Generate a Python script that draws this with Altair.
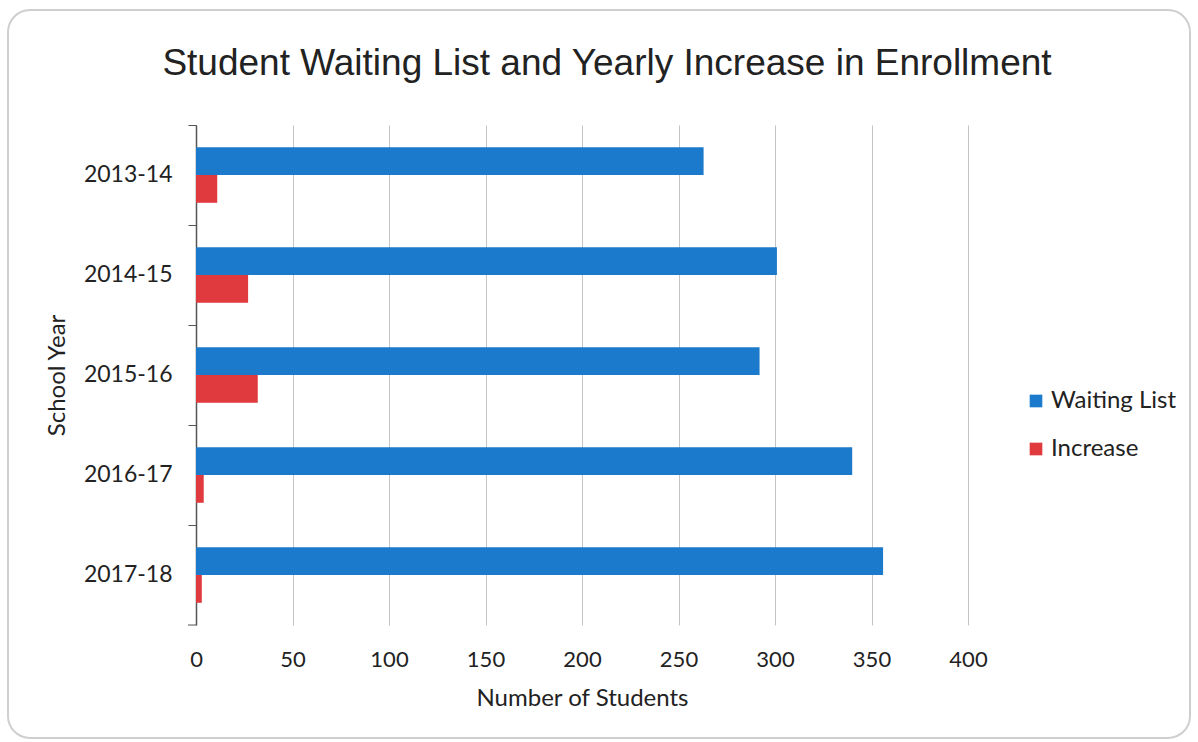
import altair as alt
import pandas as pd

# School years and the two series shown for each
years = ["2013-14", "2014-15", "2015-16", "2016-17", "2017-18"]
series_names = ["Waiting List", "Increase"]
waiting_list = [263, 301, 292, 340, 356]
increase = [11, 27, 32, 4, 3]
x_ticks = [0, 50, 100, 150, 200, 250, 300, 350, 400]
colors = ["#1b7acb", "#e0393e"]
chart_title = "Student Waiting List and Yearly Increase in Enrollment"

df = pd.DataFrame({"year": years, "Waiting List": waiting_list, "Increase": increase})
long_df = df.melt(id_vars="year", var_name="series", value_name="students")

label_font = "Lato"
text_color = "#222222"
one_row = pd.DataFrame({"k": [0]})

bars = alt.Chart(long_df).mark_bar().encode(
    x=alt.X(
        "students:Q",
        scale=alt.Scale(domain=[0, 400], nice=False),
        axis=alt.Axis(
            values=x_ticks,
            title="Number of Students",
            grid=True,
            gridColor="#c4c4c4",
            gridWidth=1,
            domain=False,
            ticks=False,
            labelFlush=False,
            labelFontSize=22,
            labelFont=label_font,
            labelColor=text_color,
            labelPadding=24,
            titleFontSize=24,
            titleFont=label_font,
            titleFontWeight="normal",
            titleColor=text_color,
            titlePadding=16,
        ),
    ),
    y=alt.Y(
        "year:N",
        sort=years,
        scale=alt.Scale(paddingInner=0, paddingOuter=0),
        axis=alt.Axis(
            title="School Year",
            bandPosition=0,
            domainColor="#555555",
            domainWidth=1.5,
            tickColor="#555555",
            tickSize=8,
            labelFontSize=23,
            labelFont=label_font,
            labelColor=text_color,
            labelPadding=16,
            titleFontSize=24,
            titleFont=label_font,
            titleFontWeight="normal",
            titleColor=text_color,
            titlePadding=14,
        ),
    ),
    yOffset=alt.YOffset(
        "series:N",
        sort=series_names,
        scale=alt.Scale(paddingInner=0, paddingOuter=0.8),
    ),
    color=alt.Color(
        "series:N",
        sort=series_names,
        scale=alt.Scale(domain=series_names, range=colors),
        legend=alt.Legend(
            title=None,
            orient="none",
            legendX=828,
            legendY=264,
            symbolType="square",
            symbolSize=160,
            symbolStrokeWidth=0,
            labelFontSize=24,
            labelFont=label_font,
            labelColor=text_color,
            rowPadding=24,
            labelOffset=3,
        ),
    ),
)

# closing tick at the bottom of the category axis
bottom_tick = alt.Chart(one_row).mark_rule(color="#555555", strokeWidth=1).encode(
    x=alt.value(-8), x2=alt.value(0), y=alt.value(500)
)

# rounded outer frame of the chart
frame = alt.Chart(one_row).mark_rect(
    filled=False, stroke="#cfcfcf", strokeWidth=2, cornerRadius=22
).encode(x=alt.value(-188), x2=alt.value(994), y=alt.value(-115), y2=alt.value(613))

# chart heading
heading = alt.Chart(one_row).mark_text(
    text=chart_title,
    font="Liberation Sans",
    fontSize=37,
    color=text_color,
    align="center",
    baseline="alphabetic",
).encode(x=alt.value(411), y=alt.value(-50))

chart = alt.layer(frame, bars, bottom_tick, heading).properties(
    width=772,
    height=500,
    autosize=alt.AutoSizeParams(type="none"),
    padding={"left": 196, "top": 125, "right": 230, "bottom": 117},
    background="white",
).configure_view(stroke=None)

chart.save("out.html", embed_options={"renderer": "svg", "actions": False})
